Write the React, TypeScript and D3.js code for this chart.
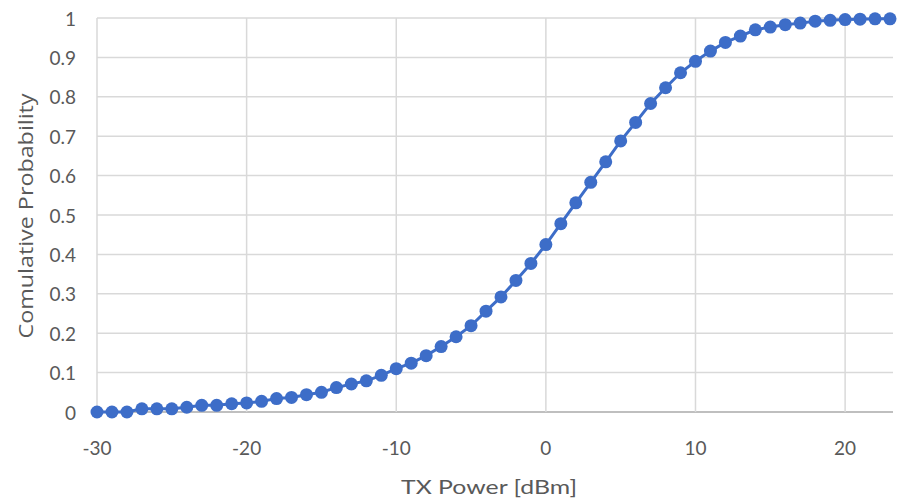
import React from "react";
import * as d3 from "d3";

const txPower: number[] = [
  -30, -29, -28, -27, -26, -25, -24, -23, -22, -21, -20, -19, -18, -17, -16, -15, -14, -13,
  -12, -11, -10, -9, -8, -7, -6, -5, -4, -3, -2, -1, 0, 1, 2, 3, 4, 5, 6, 7, 8, 9, 10, 11,
  12, 13, 14, 15, 16, 17, 18, 19, 20, 21, 22, 23,
];
const cumProb: number[] = [
  0.0, 0.0, 0.0, 0.008, 0.008, 0.008, 0.012, 0.017, 0.017, 0.021, 0.023, 0.027, 0.034, 0.037,
  0.044, 0.05, 0.062, 0.071, 0.079, 0.093, 0.11, 0.124, 0.143, 0.166, 0.191, 0.219, 0.256,
  0.292, 0.334, 0.377, 0.425, 0.478, 0.531, 0.583, 0.635, 0.688, 0.735, 0.783, 0.823, 0.861,
  0.89, 0.916, 0.938, 0.954, 0.97, 0.977, 0.983, 0.987, 0.992, 0.994, 0.996, 0.997, 0.998,
  0.998,
];
const xTicks: number[] = [-30, -20, -10, 0, 10, 20];
const yTicks: number[] = [0, 0.1, 0.2, 0.3, 0.4, 0.5, 0.6, 0.7, 0.8, 0.9, 1];
const xTitle = "TX Power [dBm]";
const yTitle = "Comulative Probability";

export default function App() {
  const W = 899;
  const H = 504;
  const x = d3.scaleLinear().domain([-30, 23.2]).range([97, 893]);
  const y = d3.scaleLinear().domain([0, 1]).range([412, 18]);
  const pts = txPower.map((t, i) => [t, cumProb[i]] as [number, number]);
  const line = d3
    .line<[number, number]>()
    .x((d) => x(d[0]))
    .y((d) => y(d[1]));
  const font = "Lato, 'Open Sans', sans-serif";
  const textColor = "#595959";
  const blue = "#3d6dc8";
  return (
    <svg
      width={W}
      height={H}
      style={{ position: "absolute", left: 0, top: 0, background: "#fff" }}
    >
      <rect x={0} y={0} width={W} height={H} fill="#fff" />
      {yTicks.map((t) => (
        <line
          key={"gy" + t}
          x1={x(-30)}
          x2={x(23.2)}
          y1={y(t)}
          y2={y(t)}
          stroke={t === 0 ? "#bfbfbf" : "#d9d9d9"}
          strokeWidth={t === 0 ? 2 : 1.5}
        />
      ))}
      {xTicks.map((t) => (
        <line
          key={"gx" + t}
          x1={x(t)}
          x2={x(t)}
          y1={y(0)}
          y2={y(1)}
          stroke="#d9d9d9"
          strokeWidth={1.5}
        />
      ))}
      {yTicks.map((t) => (
        <text
          key={"ty" + t}
          x={76}
          y={y(t)}
          textAnchor="end"
          dominantBaseline="central"
          fontFamily={font}
          fontSize={19}
          fill={textColor}
        >
          {d3.format("~g")(t)}
        </text>
      ))}
      {xTicks.map((t) => (
        <text
          key={"tx" + t}
          x={x(t)}
          y={447}
          textAnchor="middle"
          dominantBaseline="central"
          fontFamily={font}
          fontSize={19}
          fill={textColor}
        >
          {t}
        </text>
      ))}
      <text
        x={489}
        y={486}
        textAnchor="middle"
        dominantBaseline="central"
        fontFamily={font}
        fontSize={20}
        textLength={176}
        lengthAdjust="spacingAndGlyphs"
        fill={textColor}
      >
        {xTitle}
      </text>
      <text
        transform={`translate(25,216) rotate(-90)`}
        textAnchor="middle"
        dominantBaseline="central"
        fontFamily="'Open Sans', Lato, sans-serif"
        fontSize={20}
        textLength={245}
        lengthAdjust="spacingAndGlyphs"
        fill={textColor}
      >
        {yTitle}
      </text>
      <path d={line(pts) || ""} fill="none" stroke={blue} strokeWidth={3} />
      {pts.map((d, i) => (
        <circle key={"p" + i} cx={x(d[0])} cy={y(d[1])} r={6.5} fill={blue} />
      ))}
    </svg>
  );
}
